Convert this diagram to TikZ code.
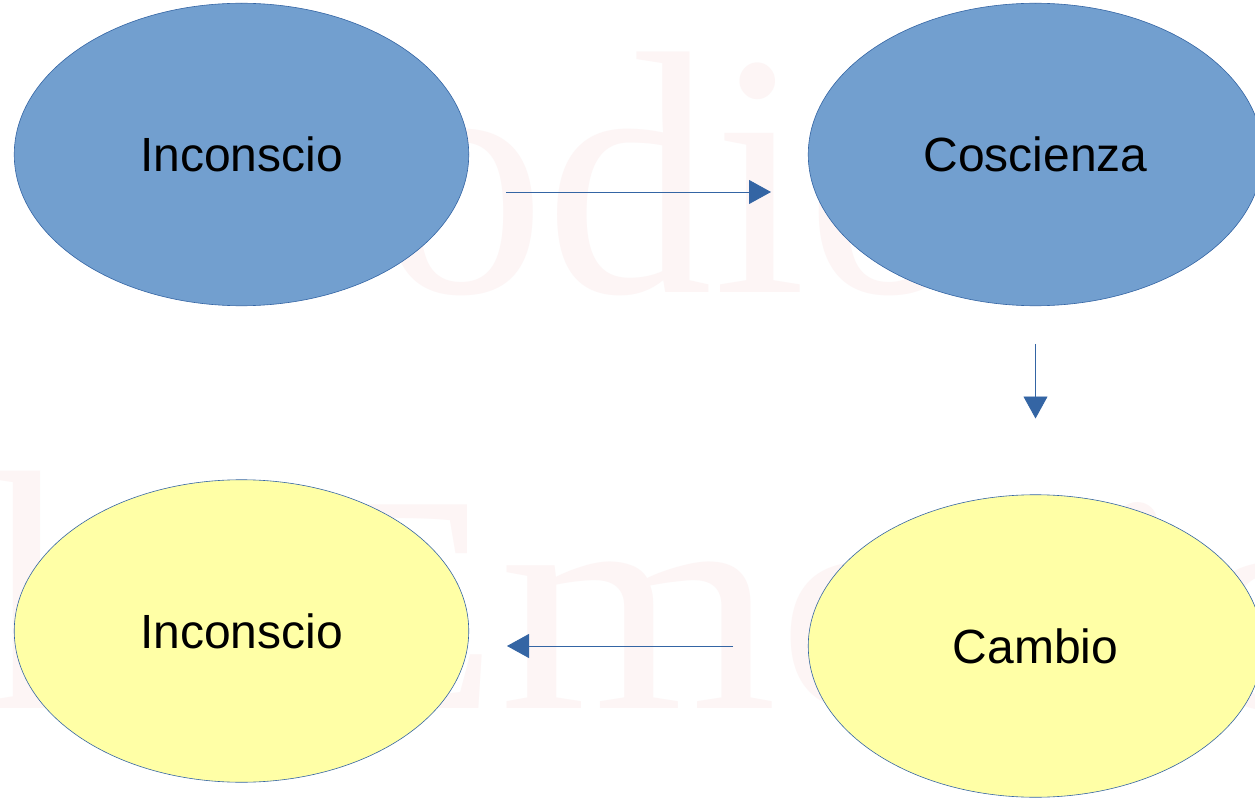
\documentclass[tikz,border=0pt]{standalone}
\usepackage{fontspec}
\setmainfont{Liberation Sans}
\newfontfamily\wmfont{Liberation Serif}
\definecolor{blueFill}{HTML}{729FCF}
\definecolor{yellowFill}{HTML}{FFFFA6}
\definecolor{edgeBlue}{HTML}{3465A4}
\definecolor{wmPink}{HTML}{FDF5F5}
\usetikzlibrary{arrows.meta,shapes.geometric}
\tikzset{
  x=1pt,y=-1pt,
  bubble/.style={ellipse,draw=edgeBlue,line width=0.6pt,minimum width=454.5pt,minimum height=302.5pt,inner sep=0pt},
  label text/.style={anchor=base,text=black,inner sep=0pt,font=\fontsize{48}{48}\selectfont},
  conn/.style={draw=edgeBlue,line width=0.9pt,-{Triangle[length=22pt,width=24pt,fill=edgeBlue]}},
  wm/.style={text=wmPink,inner sep=0pt,anchor=base west,font=\wmfont\fontsize{311}{311}\selectfont},
}
\begin{document}
\begin{tikzpicture}
\useasboundingbox (0,0) rectangle (1255,799);
\fill[white] (0,0) rectangle (1255,799);
\node[wm] (wma) at (378,293) {\scalebox{1.077}[1.115]{odio}};
\node[wm] (wmb) at (-20,708) {\scalebox{1.077}[1.10]{l}};
\node[wm] (wmc) at (281,708) {\scalebox{1.15}[1]{Emo}};
\node[wm] (wmd) at (1090,708) {\scalebox{1.15}[1]{io}};
\node[bubble,fill=blueFill] (a) at (241.5,154.5) {};
\node[bubble,fill=blueFill] (b) at (1035.5,154.5) {};
\node[bubble,fill=yellowFill] (c) at (1035.5,646) {};
\node[bubble,fill=yellowFill] (d) at (241.5,631) {};
\node[label text] (ta) at (241.5,171.5) {Inconscio};
\node[label text] (tb) at (1035.5,171.5) {Coscienza};
\node[label text] (tc) at (1035.5,663) {Cambio};
\node[label text] (td) at (241.5,648.5) {Inconscio};
\coordinate (a1) at (506,192); \coordinate (a2) at (771,192);
\coordinate (b1) at (1035.5,344); \coordinate (b2) at (1035.5,418.5);
\coordinate (c1) at (733,646); \coordinate (c2) at (507,646);
\draw[conn] (a1) -- (a2);
\draw[conn] (b1) -- (b2);
\draw[conn] (c1) -- (c2);
\end{tikzpicture}
\end{document}
